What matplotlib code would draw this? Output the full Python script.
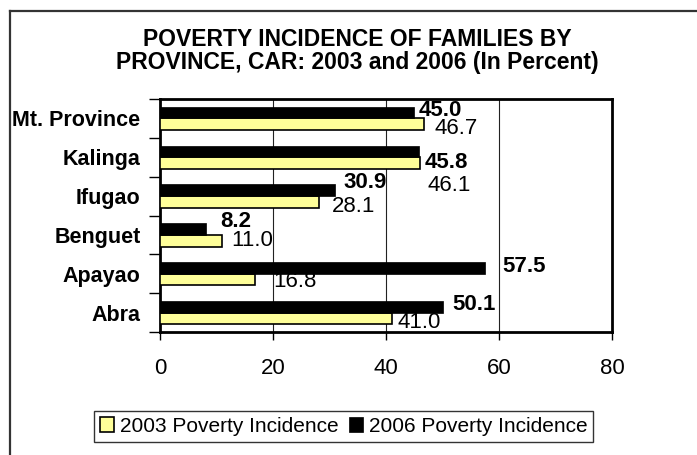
import matplotlib
matplotlib.use('Agg')
import matplotlib.pyplot as plt
from matplotlib.lines import Line2D
import numpy as np

plt.rcParams['font.family'] = ['Liberation Sans', 'DejaVu Sans']

# provinces listed bottom to top, as drawn
provinces = ['Abra', 'Apayao', 'Benguet', 'Ifugao', 'Kalinga', 'Mt. Province']
pov_2003 = [41.0, 16.8, 11.0, 28.1, 46.1, 46.7]
pov_2006 = [50.1, 57.5, 8.2, 30.9, 45.8, 45.0]
x_ticks = [0, 20, 40, 60, 80]

# label nudges (pixels) copied from the excel layout
off_2006 = [(9, 2), (17, 1.5), (14, 8), (9, 7.5), (6, -11), (4, 2)]
off_2003 = [(6, -4), (18, -2), (9, 0), (13, -5), (7.5, -22), (11, -4.5)]

fig = plt.figure(figsize=(6.97, 4.55), dpi=100)
ax = fig.add_axes([160/697, 1 - 332/455, 452/697, 233/455])

y = np.arange(len(provinces))
h = 0.3
ax.barh(y - h/2, pov_2003, height=h, color='#FFFF99', edgecolor='black',
        linewidth=1.2, label='2003 Poverty Incidence', zorder=3)
ax.barh(y + h/2, pov_2006, height=h, color='black', edgecolor='black',
        linewidth=0.5, label='2006 Poverty Incidence', zorder=3)

px = 0.72  # points per pixel at dpi 100
for i in range(len(provinces)):
    dx, dy = off_2006[i]
    ax.annotate(f'{pov_2006[i]:.1f}', (pov_2006[i], y[i] + h/2), xytext=(dx*px, dy*px),
                textcoords='offset points', ha='left', va='center',
                fontsize=16, fontweight='bold', zorder=4)
    dx, dy = off_2003[i]
    ax.annotate(f'{pov_2003[i]:.1f}', (pov_2003[i], y[i] - h/2), xytext=(dx*px, dy*px),
                textcoords='offset points', ha='left', va='center',
                fontsize=16, zorder=4)

ax.set_xlim(0, 80)
ax.set_ylim(-0.5, len(provinces) - 0.5)
ax.set_xticks(x_ticks)
ax.tick_params(axis='x', labelsize=16, length=6, width=1, pad=13)
ax.set_yticks(np.arange(len(provinces) + 1) - 0.5)
ax.set_yticklabels([])
ax.set_yticks(y, minor=True)
ax.set_yticklabels(provinces, minor=True, fontsize=15.5, fontweight='bold')
ax.tick_params(axis='y', which='major', length=8, width=1)
ax.tick_params(axis='y', which='minor', length=0, pad=14)
for v in x_ticks[1:-1]:
    ax.axvline(v, color='#222222', linewidth=0.8, zorder=1)
for s in ax.spines.values():
    s.set_linewidth(2)

fig.text(357/697, 1 - 40/455, 'POVERTY INCIDENCE OF FAMILIES BY', ha='center', va='center',
         fontsize=16.5, fontweight='bold')
fig.text(357/697, 1 - 63/455, 'PROVINCE, CAR: 2003 and 2006 (In Percent)', ha='center',
         va='center', fontsize=16.5, fontweight='bold')

leg = fig.legend(loc='center', bbox_to_anchor=(343.5/697, 1 - 426.5/455), ncol=2,
                 fontsize=15, frameon=True, fancybox=False, edgecolor='black',
                 handlelength=0.7, handleheight=0.7, handletextpad=0.25,
                 columnspacing=0.5, borderpad=0.3)
leg.get_frame().set_linewidth(1)

# outer chart border (top and left only visible)
fig.add_artist(Line2D([9.5/697, 1], [1 - 11/455, 1 - 11/455], color='#333333', linewidth=1.6))
fig.add_artist(Line2D([9.5/697, 9.5/697], [0, 1 - 11/455], color='#333333', linewidth=1.6))

fig.savefig('out.png', dpi=100)
